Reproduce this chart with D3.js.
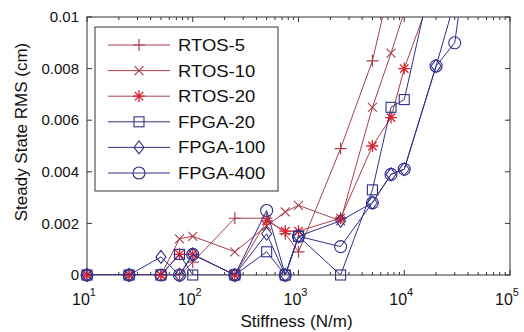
<!DOCTYPE html>
<html>
<head>
<meta charset="utf-8">
<script src="https://cdn.jsdelivr.net/npm/d3@7"></script>
<style>
  body { margin: 0; background: #fff; }
  text { font-family: Arial, "Liberation Sans", sans-serif; fill: #111; }
</style>
</head>
<body>
<div id="chart"></div>
<script>
// Data (stiffness in N/m, RMS in cm)
var stiffness = [10, 25, 50, 75, 100, 250, 500, 750, 1000, 2500, 5000, 7500, 10000, 20000, 30000, 50000];

var rtos5 = [0, 0, 0, 0, 0.0005, 0.0022, 0.0022, 0.0016, 0.0009, 0.0049, 0.0083, 0.0114];
var rtos10 = [0, 0, 0, 0.0014, 0.0015, 0.0009, 0.0019, 0.00245, 0.0027, 0.0021, 0.0065, 0.0086, 0.0102];
var rtos20 = [0, 0, 0, 0.0008, 0.0008, 0, 0.0021, 0.0017, 0.0017, 0.0022, 0.0050, 0.0061, 0.0080, 0.0114];
var fpga20 = [0, 0, 0, 0.0008, 0, 0, 0.0009, 0, 0.0015, 0, 0.0033, 0.0065, 0.0068, 0.0123];
var fpga100 = [0, 0, 0.0007, 0, 0.0008, 0, 0.0016, 0, 0.0015, 0.0021, 0.0028, 0.0039, 0.0041, 0.0081, 0.0106];
var fpga400 = [0, 0, 0, 0, 0.0008, 0, 0.0025, 0, 0.0015, 0.0011, 0.0028, 0.0039, 0.0041, 0.0081, 0.0090, 0.0155];

var seriesNames = ['RTOS-5', 'RTOS-10', 'RTOS-20', 'FPGA-20', 'FPGA-100', 'FPGA-400'];
var seriesValues = [rtos5, rtos10, rtos20, fpga20, fpga100, fpga400];
var seriesMarkers = ['plus', 'cross', 'star', 'square', 'diamond', 'circle'];

var yTicks = [0, 0.002, 0.004, 0.006, 0.008, 0.01];
var yTickLabels = ['0', '0.002', '0.004', '0.006', '0.008', '0.01'];
var xTicks = [1e1, 1e2, 1e3, 1e4, 1e5];
var xTickExps = ['1', '2', '3', '4', '5'];

var red = '#a8404c', redMark = '#e0202c', navy = '#30308a';

var W = 524, H = 332;
var pL = 87, pR = 510, pT = 17, pB = 275;

var x = d3.scaleLog().domain([10, 1e5]).range([pL, pR]);
var y = d3.scaleLinear().domain([0, 0.01]).range([pB, pT]);

var svg = d3.select('#chart').append('svg')
  .attr('width', W)
  .attr('height', H);

svg.append('defs').append('clipPath').attr('id', 'plot')
  .append('rect')
  .attr('x', pL).attr('y', pT)
  .attr('width', pR - pL).attr('height', pB - pT);

// Axis box
svg.append('rect')
  .attr('x', pL).attr('y', pT)
  .attr('width', pR - pL).attr('height', pB - pT)
  .attr('fill', '#fff')
  .attr('stroke', '#333')
  .attr('stroke-width', 1);

// Ticks pointing inward, on all sides
var minor = [];
for (var k = 1; k < 5; k++) {
  for (var m = 2; m < 10; m++) minor.push(m * Math.pow(10, k));
}
var tickG = svg.append('g').attr('stroke', '#333').attr('stroke-width', 1);
xTicks.forEach(function(t) {
  tickG.append('line').attr('x1', x(t)).attr('x2', x(t)).attr('y1', pB).attr('y2', pB - 5);
  tickG.append('line').attr('x1', x(t)).attr('x2', x(t)).attr('y1', pT).attr('y2', pT + 5);
});
minor.forEach(function(t) {
  tickG.append('line').attr('x1', x(t)).attr('x2', x(t)).attr('y1', pB).attr('y2', pB - 3);
  tickG.append('line').attr('x1', x(t)).attr('x2', x(t)).attr('y1', pT).attr('y2', pT + 3);
});
yTicks.forEach(function(t) {
  tickG.append('line').attr('x1', pL).attr('x2', pL + 5).attr('y1', y(t)).attr('y2', y(t));
  tickG.append('line').attr('x1', pR).attr('x2', pR - 5).attr('y1', y(t)).attr('y2', y(t));
});

// Tick labels
svg.append('g').selectAll('text')
  .data(yTicks)
  .enter().append('text')
  .attr('x', pL - 8)
  .attr('y', function(d) { return y(d); })
  .attr('dy', '0.35em')
  .attr('text-anchor', 'end')
  .style('font-size', '15px')
  .text(function(d, i) { return yTickLabels[i]; });

var xl = svg.append('g').selectAll('text')
  .data(xTicks)
  .enter().append('text')
  .attr('x', function(d) { return x(d) - 3; })
  .attr('y', pB + 30)
  .attr('text-anchor', 'middle')
  .style('font-size', '16px');
xl.append('tspan').text('10');
xl.append('tspan').attr('dy', -9).style('font-size', '11px').text(function(d, i) { return xTickExps[i]; });

// Axis titles
svg.append('text')
  .attr('x', (pL + pR) / 2 - 2)
  .attr('y', 327)
  .attr('text-anchor', 'middle')
  .style('font-size', '17px')
  .text('Stiffness (N/m)');

svg.append('text')
  .attr('transform', 'translate(27,' + 132 + ') rotate(-90)')
  .attr('text-anchor', 'middle')
  .style('font-size', '17px')
  .text('Steady State RMS (cm)');

// Marker drawing
function drawMarker(g, type, cx, cy, color) {
  var s = 6;
  if (type === 'plus') {
    g.append('path').attr('d', 'M' + (cx - s) + ',' + cy + 'H' + (cx + s) + 'M' + cx + ',' + (cy - s) + 'V' + (cy + s))
      .attr('stroke', color).attr('stroke-width', 1.2).attr('fill', 'none');
  } else if (type === 'cross') {
    var c = 4.5;
    g.append('path').attr('d', 'M' + (cx - c) + ',' + (cy - c) + 'L' + (cx + c) + ',' + (cy + c) + 'M' + (cx - c) + ',' + (cy + c) + 'L' + (cx + c) + ',' + (cy - c))
      .attr('stroke', color).attr('stroke-width', 1.1).attr('fill', 'none');
  } else if (type === 'star') {
    var c2 = 4.2;
    g.append('path').attr('d', 'M' + (cx - s) + ',' + cy + 'H' + (cx + s) + 'M' + cx + ',' + (cy - s) + 'V' + (cy + s) +
      'M' + (cx - c2) + ',' + (cy - c2) + 'L' + (cx + c2) + ',' + (cy + c2) + 'M' + (cx - c2) + ',' + (cy + c2) + 'L' + (cx + c2) + ',' + (cy - c2))
      .attr('stroke', redMark).attr('stroke-width', 1.3).attr('fill', 'none');
  } else if (type === 'square') {
    g.append('rect').attr('x', cx - 5).attr('y', cy - 5).attr('width', 10).attr('height', 10)
      .attr('stroke', color).attr('stroke-width', 1.1).attr('fill', 'none');
  } else if (type === 'diamond') {
    g.append('path').attr('d', 'M' + cx + ',' + (cy - 6.5) + 'L' + (cx + 5) + ',' + cy + 'L' + cx + ',' + (cy + 6.5) + 'L' + (cx - 5) + ',' + cy + 'Z')
      .attr('stroke', color).attr('stroke-width', 1.1).attr('fill', 'none');
  } else {
    g.append('circle').attr('cx', cx).attr('cy', cy).attr('r', 6)
      .attr('stroke', color).attr('stroke-width', 1.1).attr('fill', 'none');
  }
}

var line = d3.line()
  .x(function(d) { return x(d[0]); })
  .y(function(d) { return y(d[1]); });

var plot = svg.append('g');

seriesValues.forEach(function(vals, i) {
  var color = i < 3 ? red : navy;
  var pts = vals.map(function(v, j) { return [stiffness[j], v]; });
  plot.append('path')
    .datum(pts)
    .attr('clip-path', 'url(#plot)')
    .attr('fill', 'none')
    .attr('stroke', color)
    .attr('stroke-width', 1)
    .attr('d', line);
  var mg = plot.append('g');
  pts.filter(function(p) { return p[1] <= 0.01; }).forEach(function(p) {
    drawMarker(mg, seriesMarkers[i], x(p[0]), y(p[1]), color);
  });
});

// Legend
var legend = svg.append('g');
legend.append('rect')
  .attr('x', 95).attr('y', 27)
  .attr('width', 183).attr('height', 164)
  .attr('fill', '#fff')
  .attr('stroke', '#333')
  .attr('stroke-width', 1);

seriesNames.forEach(function(name, i) {
  var ly = 45 + i * 25.6;
  var color = i < 3 ? red : navy;
  legend.append('line')
    .attr('x1', 108).attr('x2', 170)
    .attr('y1', ly).attr('y2', ly)
    .attr('stroke', color).attr('stroke-width', 1);
  drawMarker(legend, seriesMarkers[i], 139, ly, color);
  legend.append('text')
    .attr('transform', 'translate(178,' + (ly + 6) + ') scale(1.12,1)')
    .style('font-size', '16.5px')
    .text(name);
});
</script>
</body>
</html>
